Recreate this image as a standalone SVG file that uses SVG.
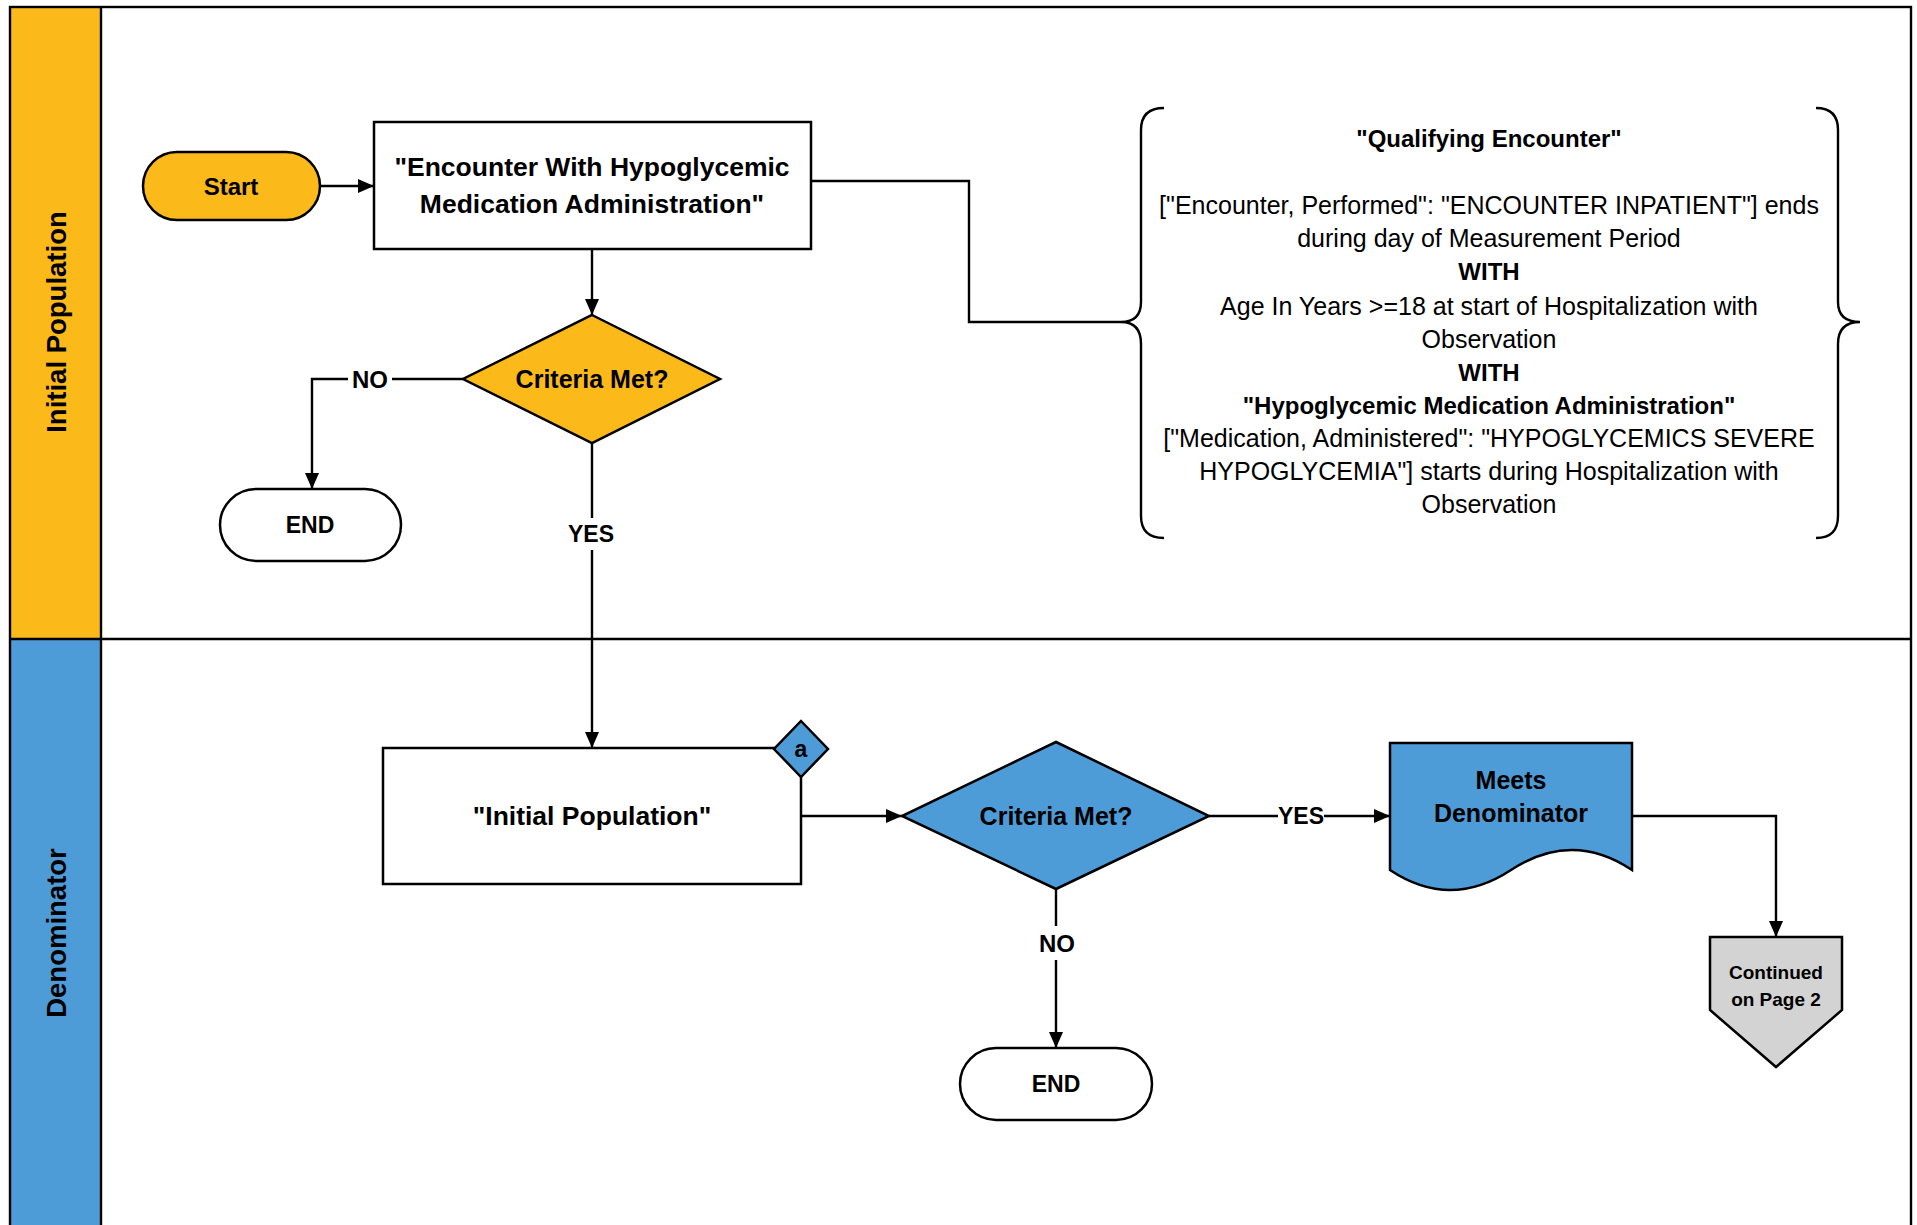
<svg xmlns="http://www.w3.org/2000/svg" width="1917" height="1225" viewBox="0 0 1917 1225">
<defs>
<marker id="arr" viewBox="0 0 16 14" refX="16" refY="7" markerWidth="16" markerHeight="14" markerUnits="userSpaceOnUse" orient="auto">
<path d="M0,0 L16,7 L0,14 Z" fill="#000"/>
</marker>
<style>
.ln{fill:none;stroke:#000;stroke-width:2.4}
.sh{stroke:#000;stroke-width:2.5}
.y{fill:#FBBA1A}
.b{fill:#4E9CD7}
.w{fill:#FFFFFF}
.g{fill:#D3D3D3}
text{font-family:"Liberation Sans",Arial,sans-serif;fill:#000;text-anchor:middle;dominant-baseline:central}
.bd{font-weight:bold}
.t27{font-size:27.5px}
.t26{font-size:26.5px}
.t25{font-size:25px}
.t24{font-size:24px}
.t23{font-size:23px}
.t19{font-size:19px}
</style>
</defs>
<rect x="0" y="0" width="1917" height="1225" fill="#FFFFFF"/>
<g id="lanes">
<rect x="10" y="7" width="91" height="632" class="y"/>
<rect x="10" y="639" width="91" height="590" class="b"/>
<rect x="10" y="7" width="1901" height="1222" fill="none" stroke="#000" stroke-width="2.4"/>
<line x1="101" y1="7" x2="101" y2="1229" stroke="#000" stroke-width="2.4"/>
<line x1="10" y1="639" x2="1911" y2="639" stroke="#000" stroke-width="2.4"/>
<text class="bd t27" transform="translate(56,322) rotate(-90)">Initial Population</text>
<text class="bd t27" transform="translate(56,933) rotate(-90)">Denominator</text>
</g>
<g id="connectors">
<path class="ln" d="M320,186 H374" marker-end="url(#arr)"/>
<path class="ln" d="M592,249 V315" marker-end="url(#arr)"/>
<path class="ln" d="M463,379 H392 M348,379 H312 V489" marker-end="url(#arr)"/>
<path class="ln" d="M592,443 V518 M592,550 V748" marker-end="url(#arr)"/>
<path class="ln" d="M811,181 H969 V322 H1121"/>
<path class="ln" d="M801,816 H902" marker-end="url(#arr)"/>
<path class="ln" d="M1209,816 H1278 M1324,816 H1390" marker-end="url(#arr)"/>
<path class="ln" d="M1056,889 V926 M1056,960 V1048" marker-end="url(#arr)"/>
<path class="ln" d="M1632,816 H1776 V937" marker-end="url(#arr)"/>
<text class="bd t24" x="370" y="379">NO</text>
<text class="bd t23" x="591" y="534">YES</text>
<text class="bd t23" x="1301" y="816">YES</text>
<text class="bd t24" x="1057" y="943">NO</text>
</g>
<g id="start">
<rect x="143" y="152" width="177" height="68" rx="34" class="y sh"/>
<text class="bd t24" x="231" y="186">Start</text>
</g>
<g id="encounter">
<rect x="374" y="122" width="437" height="127" class="w sh"/>
<text class="bd t26" x="592" y="167">"Encounter With Hypoglycemic</text>
<text class="bd t26" x="592" y="204">Medication Administration"</text>
</g>
<g id="criteria1">
<path d="M592,315 L720,379 L592,443 L463,379 Z" class="y sh"/>
<text class="bd t25" x="592" y="379">Criteria Met?</text>
</g>
<g id="end1">
<rect x="220" y="489" width="181" height="72" rx="36" class="w sh"/>
<text class="bd t23" x="310" y="525">END</text>
</g>
<g id="definition">
<path class="ln" d="M1164,108 Q1141,108 1141,130 V302 Q1141,322 1121,322 Q1141,322 1141,344 V516 Q1141,538 1164,538"/>
<path class="ln" d="M1816,108 Q1838,108 1838,130 V302 Q1838,322 1860,322 Q1838,322 1838,344 V516 Q1838,538 1816,538"/>
<text class="bd t24" x="1489" y="138">"Qualifying Encounter"</text>
<text class="t25" x="1489" y="205">["Encounter, Performed": "ENCOUNTER INPATIENT"] ends</text>
<text class="t25" x="1489" y="238">during day of Measurement Period</text>
<text class="bd t24" x="1489" y="271">WITH</text>
<text class="t25" x="1489" y="306">Age In Years &gt;=18 at start of Hospitalization with</text>
<text class="t25" x="1489" y="339">Observation</text>
<text class="bd t24" x="1489" y="372">WITH</text>
<text class="bd t24" x="1489" y="405">"Hypoglycemic Medication Administration"</text>
<text class="t25" x="1489" y="438">["Medication, Administered": "HYPOGLYCEMICS SEVERE</text>
<text class="t25" x="1489" y="471">HYPOGLYCEMIA"] starts during Hospitalization with</text>
<text class="t25" x="1489" y="504">Observation</text>
</g>
<g id="initialpop">
<rect x="383" y="748" width="418" height="136" class="w sh"/>
<text class="bd t26" x="592" y="816">"Initial Population"</text>
</g>
<g id="marker-a">
<path d="M801,721 L828,749 L801,777 L774,749 Z" class="b sh"/>
<text class="bd t23" x="801" y="749">a</text>
</g>
<g id="criteria2">
<path d="M1056,742 L1209,816 L1056,889 L902,816 Z" class="b sh"/>
<text class="bd t25" x="1056" y="816">Criteria Met?</text>
</g>
<g id="meets">
<path d="M1390,743 H1632 V870 Q1572,830 1511,870 Q1450,910 1390,870 Z" class="b sh"/>
<text class="bd t25" x="1511" y="780">Meets</text>
<text class="bd t25" x="1511" y="813">Denominator</text>
</g>
<g id="end2">
<rect x="960" y="1048" width="192" height="72" rx="36" class="w sh"/>
<text class="bd t23" x="1056" y="1084">END</text>
</g>
<g id="continued">
<path d="M1710,937 H1842 V1010 L1776,1067 L1710,1010 Z" class="g sh"/>
<text class="bd t19" x="1776" y="972">Continued</text>
<text class="bd t19" x="1776" y="999">on Page 2</text>
</g>
</svg>
